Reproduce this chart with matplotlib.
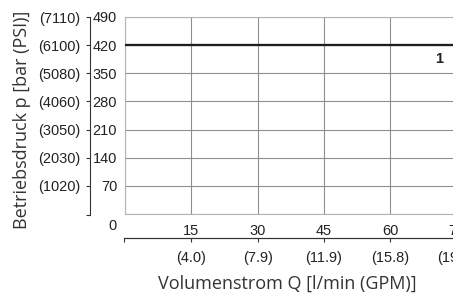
import matplotlib
matplotlib.use('Agg')
import matplotlib.pyplot as plt

# ---- data ----
flow_lpm = [0, 75]
pressure_bar = [420, 420]
x_ticks = [15, 30, 45, 60, 75]
x_gpm_labels = ['(4.0)', '(7.9)', '(11.9)', '(15.8)', '(19.8)']
y_ticks = [70, 140, 210, 280, 350, 420, 490]
y_psi_labels = ['(1020)', '(2030)', '(3050)', '(4060)', '(5080)', '(6100)', '(7110)']
curve_label = '1'
curve_label_pos = (71.0, 385)
x_label = 'Volumenstrom Q [l/min (GPM)]'
y_label = 'Betriebsdruck p [bar (PSI)]'

# ---- layout helpers ----
W, H, DPI = 453, 296, 100
PX = 72 / DPI
plt.rcParams['font.family'] = ['Liberation Sans Narrow', 'Liberation Sans', 'DejaVu Sans']

fig = plt.figure(figsize=(W / DPI, H / DPI), dpi=DPI)


def fx(px):
    return px / W


def fy(py):
    return 1 - py / H


tick_size = 14.5 * PX
tick_color = '#222222'
label_font = ['Open Sans', 'DejaVu Sans']

left, right, top, bottom = 125, 456.5, 17, 214
XMAX, YMAX = 75, 490

# main grid axes
ax = fig.add_axes([fx(left), fy(bottom), (right - left) / W, (bottom - top) / H])
ax.set_xlim(0, XMAX)
ax.set_ylim(0, YMAX)
ax.set_xticks([0] + x_ticks)
ax.set_xticklabels([''] + [str(v) for v in x_ticks])
ax.set_yticks([0] + y_ticks)
ax.set_yticklabels([''] + [str(v) for v in y_ticks])
ax.tick_params(length=0, labelsize=tick_size, colors=tick_color)
ax.tick_params(axis='x', pad=10 * PX)
ax.tick_params(axis='y', pad=8 * PX)
ax.grid(True, color='#8e8e8e', linewidth=1.1 * PX)
ax.set_axisbelow(True)
for s in ax.spines.values():
    s.set_visible(False)
edge_c = '#b4b4b4'
ax.axhline(0, color=edge_c, lw=1.1 * PX, clip_on=False, zorder=1.5)
ax.axhline(YMAX, color=edge_c, lw=1.1 * PX, clip_on=False, zorder=1.5)
ax.axvline(0, color=edge_c, lw=1.1 * PX, clip_on=False, zorder=1.5)

ax.plot(flow_lpm, pressure_bar, color='#1e1e1e', lw=2.3 * PX, solid_capstyle='butt', zorder=3)
ax.text(curve_label_pos[0], curve_label_pos[1], curve_label, fontweight='bold',
        ha='center', va='center', fontsize=tick_size, color=tick_color)
ax.annotate('0', xy=(0, 0), xycoords=('axes fraction', 'data'), xytext=(-9, -12),
            textcoords='offset pixels', ha='right', va='center', fontsize=tick_size,
            color=tick_color)

# psi axis (left spine)
ay = fig.add_axes([fx(90), fy(bottom + 1), 1e-6, (bottom + 1 - top) / H])
ay.set_ylim(-2.5, YMAX)
ay.set_yticks([-2.5] + y_ticks)
ay.set_yticklabels([''] + y_psi_labels)
ay.patch.set_visible(False)
for k, s in ay.spines.items():
    s.set_visible(k == 'left')
ay.spines['left'].set_color('#333333')
ay.spines['left'].set_linewidth(1.1 * PX)
ay.xaxis.set_visible(False)
ay.tick_params(axis='y', direction='out', length=4 * PX, width=1.1 * PX, pad=6 * PX,
               labelsize=tick_size, colors='#333333', labelcolor=tick_color)

# gpm axis (bottom spine)
axx = fig.add_axes([fx(left - 1.5), fy(238), (right - left + 1.5) / W, 0.001])
axx.set_xlim(-0.34, XMAX)
axx.set_xticks([-0.34] + x_ticks)
axx.set_xticklabels([''] + x_gpm_labels)
axx.patch.set_visible(False)
for k, s in axx.spines.items():
    s.set_visible(k == 'bottom')
axx.spines['bottom'].set_color('#333333')
axx.spines['bottom'].set_linewidth(1.2 * PX)
axx.yaxis.set_visible(False)
axx.tick_params(axis='x', direction='out', length=4 * PX, width=1.1 * PX, pad=9 * PX,
                labelsize=tick_size, colors='#333333', labelcolor=tick_color)

# axis titles
fig.text(fx(287.5), fy(284), x_label, ha='center', va='center', family=label_font,
         fontsize=18 * PX, color='#333333')
fig.text(fx(22), fy(120), y_label, ha='center', va='center', rotation=90,
         family=label_font, fontsize=18 * PX, color='#333333')

fig.savefig('out.png', dpi=DPI)
